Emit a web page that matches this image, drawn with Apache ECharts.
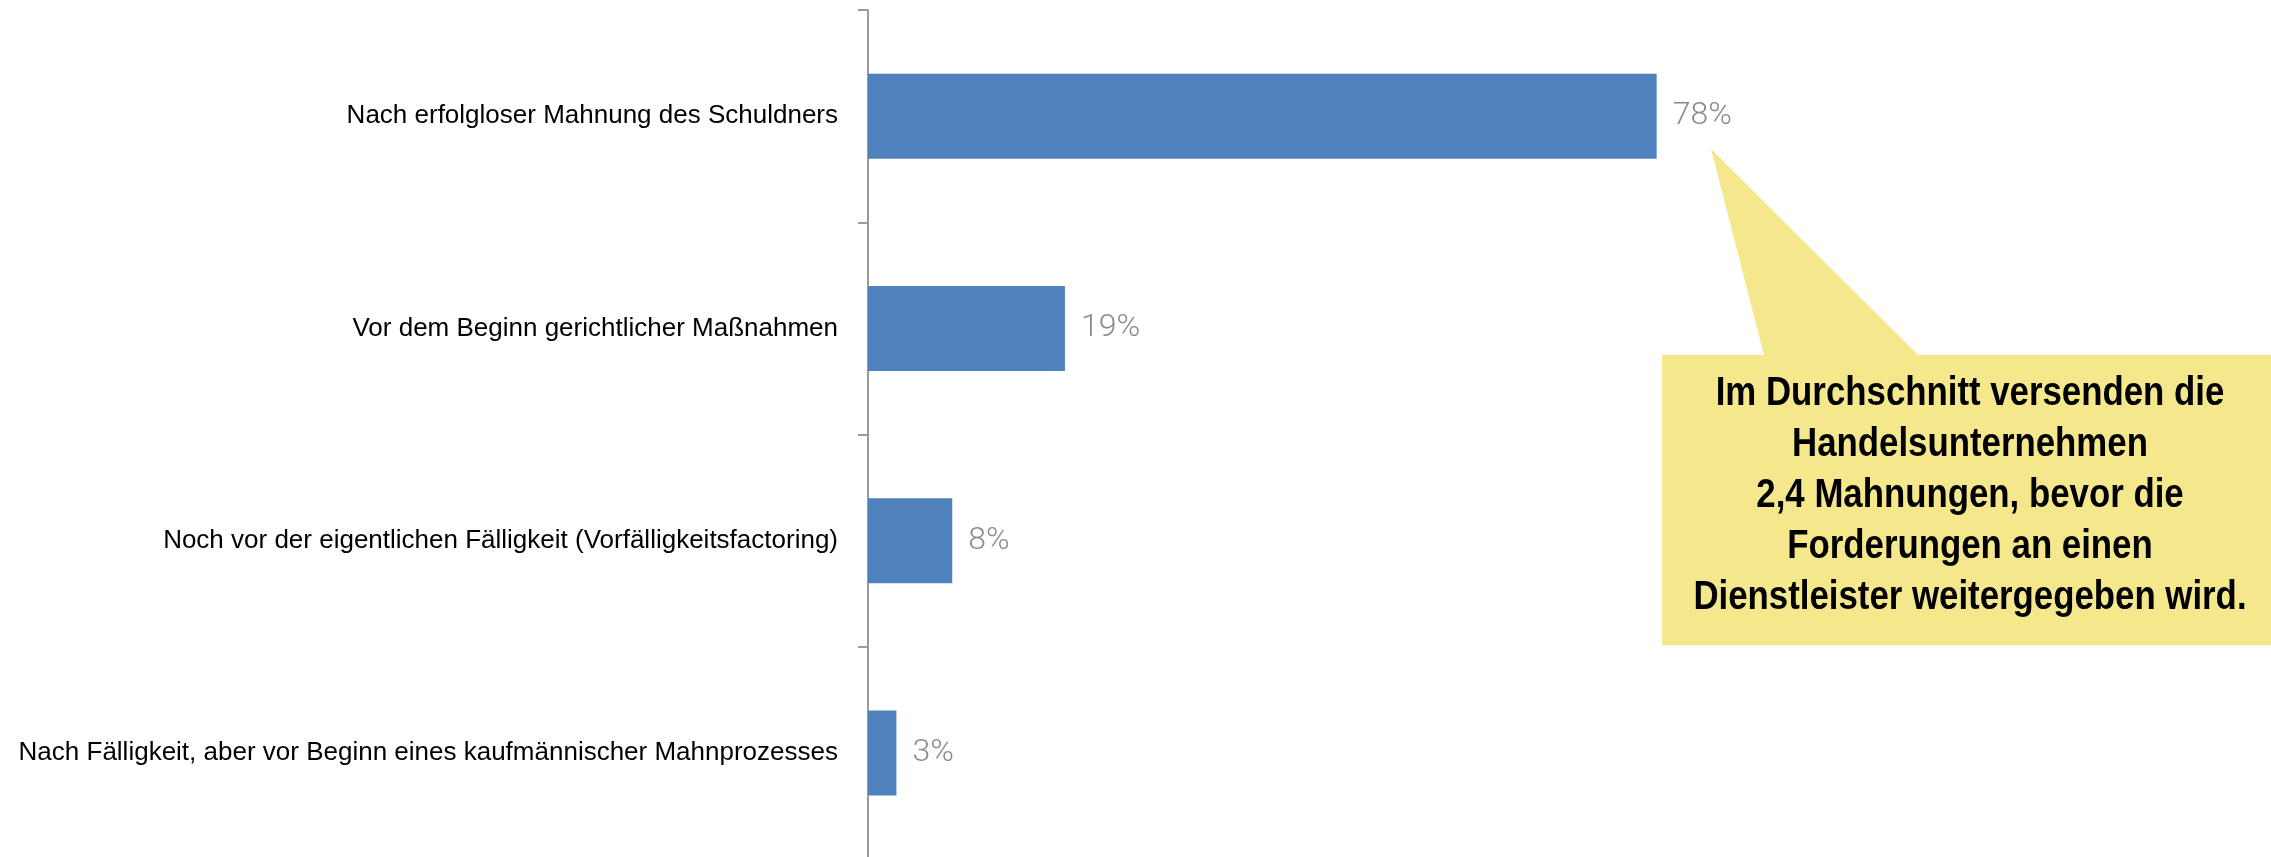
<!DOCTYPE html>
<html>
<head>
<meta charset="utf-8">
<script src="https://cdn.jsdelivr.net/npm/echarts@6/dist/echarts.min.js"></script>
<style>
    html, body { margin: 0; padding: 0; background: #fff; }
    #main { width: 2271px; height: 857px; }
</style>
</head>
<body>
<div id="main"></div>
<script>
    // Kategorien (von oben nach unten)
    var categories = [
        'Nach erfolgloser Mahnung des Schuldners',
        'Vor dem Beginn gerichtlicher Maßnahmen',
        'Noch vor der eigentlichen Fälligkeit (Vorfälligkeitsfactoring)',
        'Nach Fälligkeit, aber vor Beginn eines kaufmännischer Mahnprozesses'
    ];
    var values = [77.7, 19.4, 8.3, 2.8];
    var calloutLines = [
        'Im Durchschnitt versenden die',
        'Handelsunternehmen',
        '2,4 Mahnungen, bevor die',
        'Forderungen an einen',
        'Dienstleister weitergegeben wird.'
    ];

    var chart = echarts.init(document.getElementById('main'));
    var option = {
        animation: false,
        backgroundColor: '#fff',
        grid: {
            left: 868,
            right: 388,
            top: 10,
            height: 849,
            containLabel: false,
            outerBoundsMode: 'none'
        },
        xAxis: {
            type: 'value',
            min: 0,
            max: 100,
            show: false,
            splitLine: { show: false }
        },
        yAxis: {
            type: 'category',
            data: categories,
            inverse: true,
            axisLine: { lineStyle: { color: '#9a9a9a', width: 2 } },
            axisTick: { show: true, length: 10, lineStyle: { color: '#9a9a9a', width: 2 } },
            axisLabel: {
                margin: 30,
                color: '#000',
                fontSize: 26,
                fontFamily: '"Liberation Sans", Arial, sans-serif'
            }
        },
        series: [{
            type: 'bar',
            data: values,
            barWidth: 85,
            itemStyle: { color: '#4f81bd' },
            label: {
                show: true,
                position: 'right',
                distance: 16,
                color: '#8c8c8c',
                fontSize: 32,
                fontWeight: 300,
                fontFamily: 'Roboto, "Open Sans", sans-serif',
                formatter: function (p) { return Math.round(p.value) + '%'; }
            }
        }],
        graphic: [
            {
                type: 'polygon',
                shape: {
                    points: [[1662, 355], [1764, 355], [1711, 149], [1918, 355],
                             [2280, 355], [2280, 645], [1662, 645]]
                },
                style: { fill: '#f5e88c' }
            },
            {
                // schmale Schrift fehlt, deshalb horizontal gestaucht
                type: 'text',
                x: 1970,
                y: 496,
                scaleX: 0.87,
                style: {
                    text: calloutLines.join('\n'),
                    fill: '#000',
                    font: 'bold 40px "Liberation Sans", Arial, sans-serif',
                    lineHeight: 51,
                    align: 'center',
                    verticalAlign: 'middle'
                }
            }
        ]
    };
    chart.setOption(option);
</script>
</body>
</html>
